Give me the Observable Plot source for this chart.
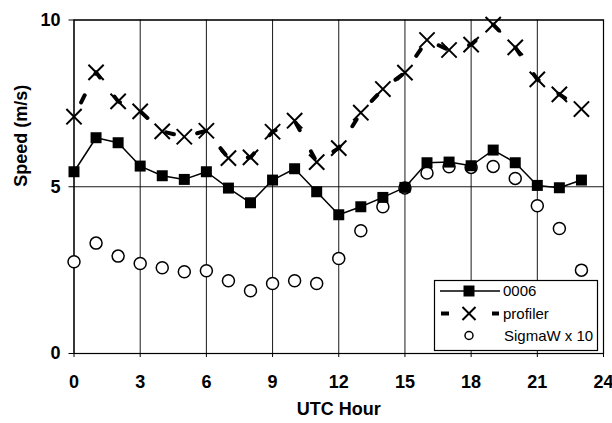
<!DOCTYPE html>
<html><head><meta charset="utf-8">
<script src="https://cdn.jsdelivr.net/npm/d3@7"></script>
<script src="https://cdn.jsdelivr.net/npm/@observablehq/plot@0.6"></script>
<style>
body{margin:0;background:#fff;font-family:"Liberation Sans",Arial,sans-serif}
#chart{position:relative;width:612px;height:423px}
</style>
</head><body><div id="chart"></div>
<script>
const hours    = [0,1,2,3,4,5,6,7,8,9,10,11,12,13,14,15,16,17,18,19,20,21,22,23];
const s0006    = [5.45,6.47,6.32,5.62,5.33,5.22,5.45,4.96,4.52,5.2,5.54,4.85,4.16,4.4,4.68,4.98,5.72,5.74,5.63,6.1,5.72,5.04,4.97,5.2];
const profiler = [7.1,8.43,7.56,7.26,6.66,6.5,6.68,5.86,5.88,6.65,6.98,5.74,6.16,7.22,7.93,8.42,9.4,9.1,9.26,9.86,9.18,8.22,7.77,7.33];
const sigmaW   = [2.75,3.31,2.92,2.7,2.57,2.45,2.48,2.18,1.88,2.1,2.18,2.1,2.85,3.68,4.4,4.96,5.41,5.6,5.58,5.61,5.25,4.43,3.75,2.5];
const xTicks   = [0,3,6,9,12,15,18,21,24];
const yTicks   = [0,5,10];
const seriesNames = ["0006","profiler","SigmaW x 10"];

const data = hours.map((h,i)=>({hour:h, s0006:s0006[i], profiler:profiler[i], sigmaW:sigmaW[i]}));

const plot = Plot.plot({
  width: 612, height: 423,
  marginLeft: 73.5, marginRight: 9, marginTop: 19.5, marginBottom: 70,
  x: {domain:[0,24], ticks: xTicks},
  y: {domain:[0,10], ticks: yTicks},
  style: {fontFamily:"'Liberation Sans', Arial, sans-serif", fontSize:"18px", fontWeight:"bold", color:"#000", background:"#fff", overflow:"visible"},
  marks: [
    Plot.ruleX(xTicks, {stroke:"#000", strokeWidth:1, strokeOpacity:0.9}),
    Plot.ruleY(yTicks, {stroke:"#000", strokeWidth:1, strokeOpacity:0.9}),
    Plot.frame({stroke:"#000", strokeWidth:1.2}),
    Plot.axisX({ticks:xTicks, tickSize:4, tickPadding:18, label:null, fontSize:18, fontWeight:"bold"}),
    Plot.axisY({ticks:yTicks, tickSize:5, tickPadding:8.5, label:null, fontSize:18, fontWeight:"bold"}),
    Plot.line(data, {x:"hour", y:"profiler", stroke:"#000", strokeWidth:4, strokeDasharray:"8,24", strokeDashoffset:-16}),
    Plot.line(data, {x:"hour", y:"s0006", stroke:"#000", strokeWidth:1.5}),
    Plot.dot(data, {x:"hour", y:"sigmaW", symbol:"circle", r:6, stroke:"#000", fill:"#fff", strokeWidth:1.5}),
    Plot.dot(data, {x:"hour", y:"profiler", symbol:"times", r:7, stroke:"#000", strokeWidth:2}),
    Plot.dot(data, {x:"hour", y:"s0006", symbol:"square", r:6.2, fill:"#000", stroke:"none"}),
    Plot.text(["UTC Hour"], {frameAnchor:"bottom", dy:61, fontSize:18, fontWeight:"bold", fill:"#000"}),
    Plot.text(["Speed (m/s)"], {frameAnchor:"left", dx:-53, rotate:-90, fontSize:18, fontWeight:"bold", fill:"#000"})
  ]
});
document.getElementById("chart").appendChild(plot);

// legend box (layout annotation)
const svg = d3.select(plot);
const g = svg.append("g").attr("font-family","'Liberation Sans', Arial, sans-serif").attr("font-size",15).attr("font-weight","normal").attr("text-anchor","start");
g.append("rect").attr("x",434.5).attr("y",280.5).attr("width",163).attr("height",70).attr("fill","#fff").attr("stroke","#000").attr("stroke-width",1.2);
const rows = [291, 313.5, 335.5];
// 0006
g.append("line").attr("x1",440).attr("x2",500).attr("y1",rows[0]).attr("y2",rows[0]).attr("stroke","#000").attr("stroke-width",1.5);
g.append("path").attr("d",d3.symbol(d3.symbolSquare, Math.PI*6.2*6.2)()).attr("transform",`translate(469,${rows[0]})`).attr("fill","#000");
// profiler
g.append("line").attr("x1",441).attr("x2",449).attr("y1",rows[1]).attr("y2",rows[1]).attr("stroke","#000").attr("stroke-width",4);
g.append("line").attr("x1",492).attr("x2",499).attr("y1",rows[1]).attr("y2",rows[1]).attr("stroke","#000").attr("stroke-width",4);
g.append("path").attr("d",d3.symbol(d3.symbolTimes, Math.PI*6*6)()).attr("transform",`translate(469,${rows[1]})`).attr("fill","none").attr("stroke","#000").attr("stroke-width",2);
// sigma
g.append("circle").attr("cx",469).attr("cy",rows[2]).attr("r",4).attr("fill","#fff").attr("stroke","#000").attr("stroke-width",1.5);
seriesNames.forEach((n,i)=>{
  g.append("text").attr("x", i===2 ? 504 : 503).attr("y",rows[i]).attr("dy","0.35em").attr("fill","#000").attr("text-anchor","start").text(n);
});
</script>
</body></html>
